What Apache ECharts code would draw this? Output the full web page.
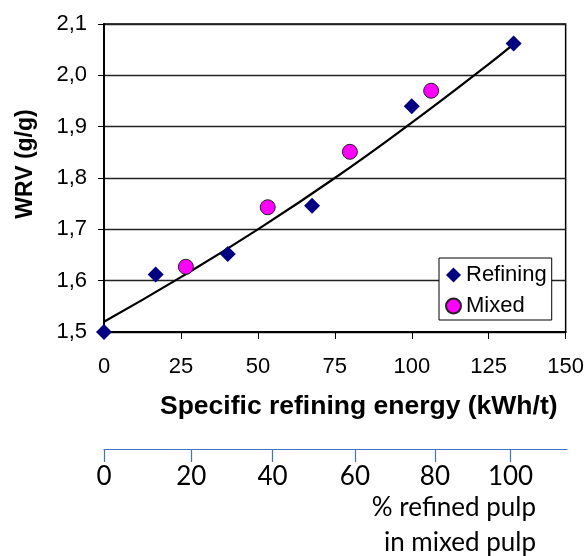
<!DOCTYPE html>
<html><head><meta charset="utf-8">
<script src="https://cdn.jsdelivr.net/npm/echarts@6/dist/echarts.min.js"></script>
<style>html,body{margin:0;padding:0;background:#fff}#c{width:587px;height:556px}</style>
</head><body><div id="c"></div>
<script>
// Refining series: specific refining energy (kWh/t) and WRV (g/g)
const refiningEnergy = [0, 16.8, 40.2, 67.6, 100, 133.1];
const refiningWRV    = [1.50, 1.612, 1.652, 1.746, 1.94, 2.062];
// Mixed pulp series
const mixedEnergy = [26.6, 53.2, 79.9, 106.3];
const mixedWRV    = [1.627, 1.743, 1.851, 1.970];
// Trend line
const trendEnergy = [0, 25, 50, 75, 100, 125, 132.5];
const trendWRV    = [1.52, 1.607, 1.70, 1.800, 1.908, 2.022, 2.058];
// Secondary scale: % refined pulp in mixed pulp, placed at energy positions
const pctLabels    = ['0', '20', '40', '60', '80', '100'];
const pctPositions = [0, 28.3, 54.6, 81.3, 107.2, 131.7];
// Primary axis ticks
const xMin = 0, xMax = 150, xStep = 25;
const yMin = 1.5, yMax = 2.1, yStep = 0.1;

const AR = 'Liberation Sans, Arial, sans-serif';
const CAL = 'Lato, Carlito, Calibri, sans-serif';

const chart = echarts.init(document.getElementById('c'), null, {renderer: 'canvas'});
chart.setOption({
  animation: false,
  backgroundColor: '#fff',
  grid: [
    {left: 104, right: 20, top: 24, bottom: 224, show: true, borderColor: '#000', borderWidth: 1.5, backgroundColor: 'transparent'},
    {left: 104, right: 20, top: 449, height: 1, show: false}
  ],
  xAxis: [
    {
      type: 'value', gridIndex: 0, min: xMin, max: xMax, interval: xStep,
      axisLine: {show: true, onZero: false, lineStyle: {color: '#000', width: 2}},
      axisTick: {show: true, inside: false, length: 7, lineStyle: {color: '#000', width: 1}},
      axisLabel: {fontFamily: AR, fontSize: 22, color: '#000', margin: 24},
      splitLine: {show: false}
    },
    {
      type: 'value', gridIndex: 1, min: xMin, max: xMax, position: 'top',
      axisLine: {show: true, onZero: false, lineStyle: {color: '#4472C4', width: 1.2}},
      axisTick: {show: true, inside: true, length: 13, customValues: pctPositions, lineStyle: {color: '#4472C4', width: 1.2}},
      axisLabel: {show: true, inside: true, customValues: pctPositions, fontFamily: CAL, fontSize: 26, color: '#000', margin: 15,
        formatter: function (v) {
          let best = 0, d = 1e9;
          pctPositions.forEach(function (p, i) { if (Math.abs(p - v) < d) { d = Math.abs(p - v); best = i; } });
          return pctLabels[best];
        }},
      splitLine: {show: false}
    }
  ],
  yAxis: [
    {
      type: 'value', gridIndex: 0, min: yMin, max: yMax, interval: yStep,
      axisLine: {show: true, onZero: false, lineStyle: {color: '#000', width: 2}},
      axisTick: {show: true, inside: false, length: 6, lineStyle: {color: '#000', width: 1}},
      axisLabel: {fontFamily: AR, fontSize: 22, color: '#000', margin: 17,
        formatter: function (v) { return v.toFixed(1).replace('.', ','); }},
      splitLine: {show: true, lineStyle: {color: '#222', width: 1.3}}
    },
    {type: 'value', gridIndex: 1, show: false, min: 0, max: 1}
  ],
  legend: {
    show: true, orient: 'vertical', left: 439, top: 258,
    backgroundColor: '#fff', borderColor: '#000', borderWidth: 1,
    padding: [6, 5, 3, 6], itemGap: 9, itemWidth: 15, itemHeight: 15,
    textStyle: {fontFamily: AR, fontSize: 22, color: '#000', padding: [0, 0, 0, 0]},
    data: [{name: 'Refining', icon: 'diamond'}, {name: 'Mixed', icon: 'circle'}]
  },
  graphic: [
    {type: 'text', left: 160, top: 393, style: {text: 'Specific refining energy (kWh/t)', font: 'bold 26.5px ' + AR, fill: '#000'}},
    {type: 'text', x: 26, y: 164, rotation: Math.PI / 2, style: {text: 'WRV (g/g)', font: 'bold 23px ' + AR, fill: '#000', align: 'center', verticalAlign: 'middle'}},
    {type: 'text', x: 536, y: 508, style: {text: '% refined pulp', font: '26px ' + CAL, fill: '#000', align: 'right', verticalAlign: 'middle'}},
    {type: 'text', x: 536, y: 543, style: {text: 'in mixed pulp', font: '26px ' + CAL, fill: '#000', align: 'right', verticalAlign: 'middle'}}
  ],
  series: [
    {
      name: 'Trend', type: 'line', xAxisIndex: 0, yAxisIndex: 0, smooth: true, symbol: 'none',
      lineStyle: {color: '#000', width: 2.2}, z: 2,
      data: trendEnergy.map(function (x, i) { return [x, trendWRV[i]]; })
    },
    {
      name: 'Refining', type: 'scatter', xAxisIndex: 0, yAxisIndex: 0, symbol: 'diamond', symbolSize: 16,
      itemStyle: {color: '#000080', opacity: 1}, z: 3,
      data: refiningEnergy.map(function (x, i) { return [x, refiningWRV[i]]; })
    },
    {
      name: 'Mixed', type: 'scatter', xAxisIndex: 0, yAxisIndex: 0, symbol: 'circle', symbolSize: 15,
      itemStyle: {color: '#FF00FF', borderColor: '#222', borderWidth: 1, opacity: 1}, z: 3,
      data: mixedEnergy.map(function (x, i) { return [x, mixedWRV[i]]; })
    }
  ]
});
</script></body></html>
